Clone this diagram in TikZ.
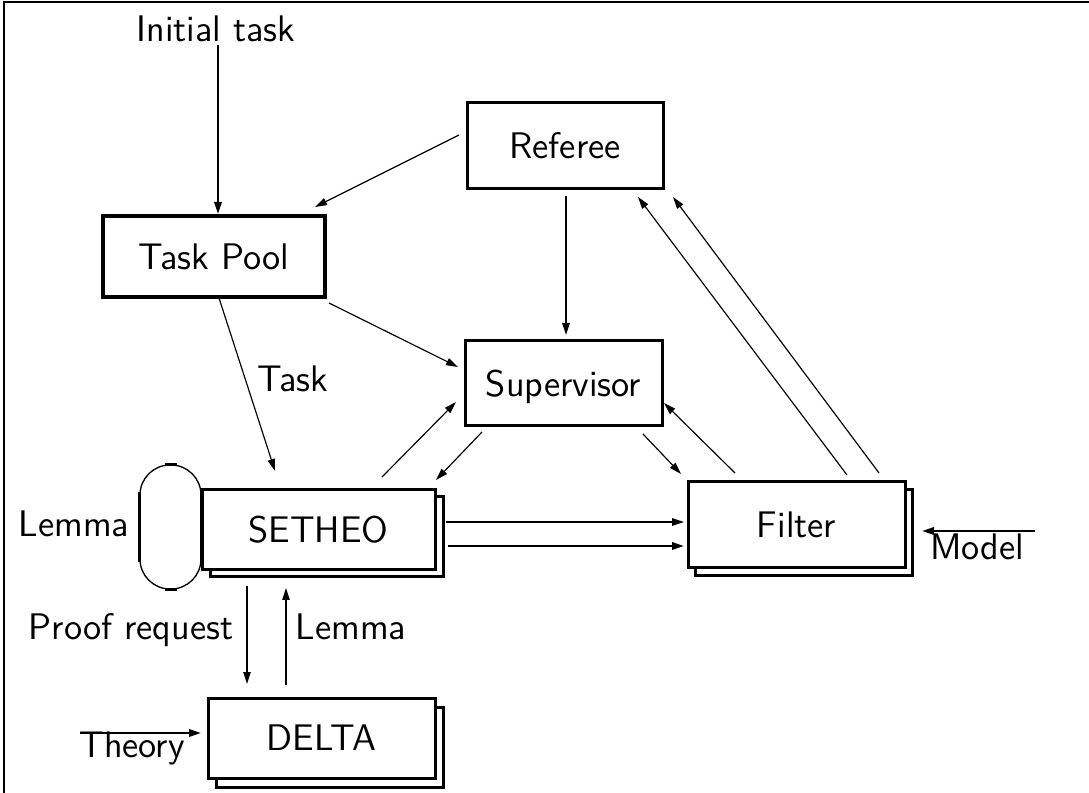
\documentclass[tikz,border=0pt]{standalone}
\usetikzlibrary{arrows.meta}
\begin{document}
\begin{tikzpicture}[x=0.3pt,y=-0.3pt,
  every node/.style={font=\fontsize{11.1}{13}\selectfont\sffamily},
  box/.style={draw, line width=0.9pt, fill=white, inner sep=0pt, text height=7.7pt, text depth=0pt},
  lbl/.style={inner sep=0pt, anchor=base},
  arr/.style={-{Triangle[length=3.6pt,width=2.2pt]}, line width=0.35pt},
  arrm/.style={arr, line width=0.7pt},
]
\useasboundingbox (0,0) rectangle (1089,793);
\draw[line width=0.8pt] (4,793) -- (4,2) -- (1089,2);

% shadows
\node[box, minimum width=69.9pt, minimum height=24pt] (setheoS) at (326.5,537) {};
\node[box, minimum width=65.1pt, minimum height=25.8pt] (filterS) at (803.5,533) {};
\node[box, minimum width=68.1pt, minimum height=24pt] (deltaS) at (329.5,747) {};

% boxes
\node[box, minimum width=66.6pt, minimum height=24.3pt, line width=1pt] (taskpool) at (214,256.5) {Task Pool};
\node[box, minimum width=58.8pt, minimum height=25.8pt] (referee) at (565,146) {Referee};
\node[box, minimum width=59.1pt, minimum height=25.5pt] (supervisor) at (563.5,383.5) {Supervisor};
\node[box, minimum width=69.9pt, minimum height=24pt] (setheo) at (318.5,530) {SETHEO};
\node[box, minimum width=65.1pt, minimum height=25.8pt] (filter) at (796.5,525) {Filter};
\node[box, minimum width=68.1pt, minimum height=24pt] (delta) at (321.5,738) {DELTA};

% lemma loop
\node[draw, line width=0.4pt, rounded corners=9pt, minimum width=18.3pt, minimum height=37.2pt, inner sep=0pt] (loop) at (170.5,527) {};
\draw[line width=0.9pt] ([yshift=-10.5pt]loop.west) -- ([yshift=10.5pt]loop.west)
  ([yshift=-10.5pt]loop.east) -- ([yshift=10.5pt]loop.east)
  ([xshift=-1.8pt]loop.north) -- ([xshift=1.8pt]loop.north)
  ([xshift=-1.8pt]loop.south) -- ([xshift=1.8pt]loop.south);

% labels
\node[lbl] (init) at (216,42) {Initial task};
\node[lbl] (tasklbl) at (293,392) {Task};
\node[lbl] (lemmaL) at (74,537) {Lemma};
\node[lbl] (proofreq) at (131,640) {Proof request};
\node[lbl] (lemmaD) at (351,640) {Lemma};
\node[lbl] (theory) at (132,757) {Theory};
\node[lbl] (model) at (977,560) {Model};

% coordinates
\coordinate (i1) at (218,45);   \coordinate (i2) at (218,214);
\coordinate (rt1) at (459,135); \coordinate (rt2) at (315,207);
\coordinate (rs1) at (566,196); \coordinate (rs2) at (566,335);
\coordinate (ts1) at (329,303); \coordinate (ts2) at (458,367);
\coordinate (tt1) at (219,298); \coordinate (tt2) at (275,471);
\coordinate (ss1) at (382,477); \coordinate (ss2) at (456,402);
\coordinate (vs1) at (482,432); \coordinate (vs2) at (436,480);
\coordinate (vf1) at (643,434); \coordinate (vf2) at (681,474);
\coordinate (fv1) at (735,473); \coordinate (fv2) at (664,403);
\coordinate (fr1) at (847,475); \coordinate (fr2) at (638,197);
\coordinate (fq1) at (879,473); \coordinate (fq2) at (673,197);
\coordinate (sf1) at (446,522); \coordinate (sf2) at (684,522);
\coordinate (sg1) at (448,546); \coordinate (sg2) at (684,546);
\coordinate (m1) at (1035,531); \coordinate (m2) at (922,531);
\coordinate (th1) at (80,733);  \coordinate (th2) at (201,733);
\coordinate (pd1) at (247,586); \coordinate (pd2) at (247,684);
\coordinate (pu1) at (286,685); \coordinate (pu2) at (286,588);

% arrows
\draw[arrm] (i1) -- (i2);
\draw[arr] (rt1) -- (rt2);
\draw[arr, line width=0.55pt] (rs1) -- (rs2);
\draw[arr] (ts1) -- (ts2);
\draw[arr] (tt1) -- (tt2);
\draw[arr] (ss1) -- (ss2);
\draw[arr] (vs1) -- (vs2);
\draw[arr] (vf1) -- (vf2);
\draw[arr] (fv1) -- (fv2);
\draw[arr] (fr1) -- (fr2);
\draw[arr] (fq1) -- (fq2);
\draw[arr, line width=0.5pt] (sf1) -- (sf2);
\draw[arrm] (sg1) -- (sg2);
\draw[arrm] (m1) -- (m2);
\draw[arrm] (th1) -- (th2);
\draw[arr, line width=0.45pt] (pd1) -- (pd2);
\draw[arr, line width=0.45pt] (pu1) -- (pu2);
\end{tikzpicture}
\end{document}
